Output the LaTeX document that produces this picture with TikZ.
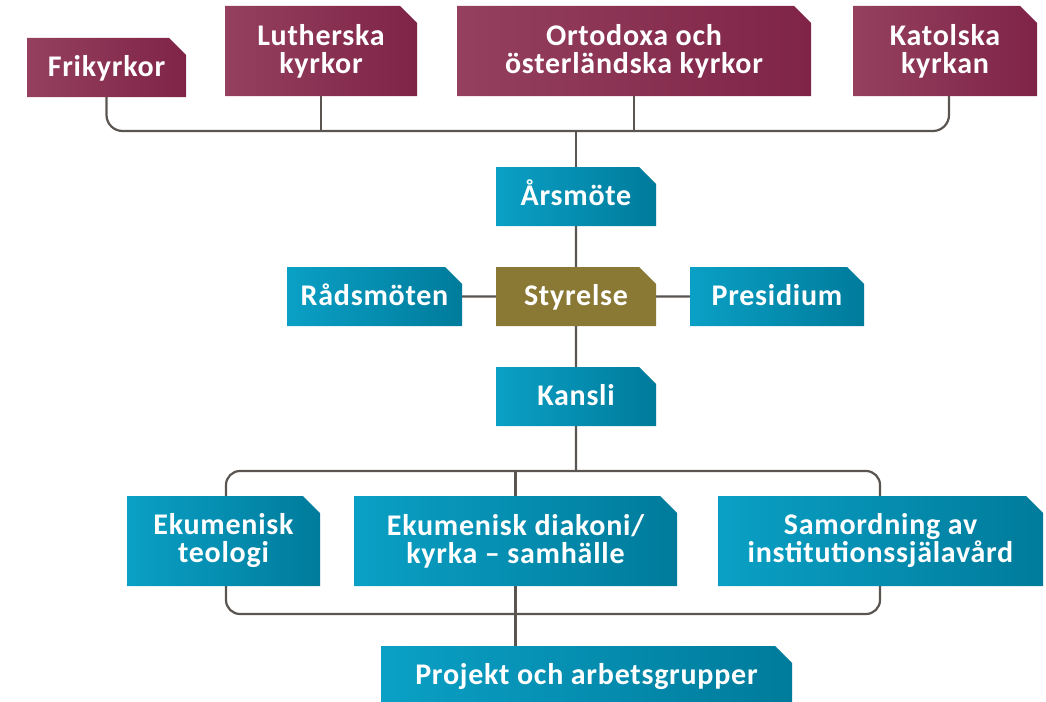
\documentclass[tikz,border=0pt]{standalone}
\usepackage{fontspec}
\setmainfont{Carlito}[LetterSpace=2.5]
\usetikzlibrary{positioning,shapes.misc,backgrounds}

\definecolor{kyrkaLight}{HTML}{95405E}
\definecolor{kyrkaDark}{HTML}{7F2447}
\definecolor{organLight}{HTML}{0AA0C5}
\definecolor{organDark}{HTML}{007B9B}
\definecolor{styrOlive}{HTML}{8A7835}
\definecolor{lineGrey}{HTML}{5A5551}

\tikzset{
  box/.style={chamfered rectangle, chamfered rectangle corners=north east,
    chamfered rectangle xsep=8.5pt, chamfered rectangle ysep=8.5pt,
    inner sep=0pt, outer sep=0pt, text=white, align=center,
    font=\fontsize{30}{28}\selectfont\bfseries, minimum height=59pt},
  enrad/.style={text height=22pt, text depth=5pt},
  kyrka/.style={box, left color=kyrkaLight, right color=kyrkaDark, minimum height=90pt},
  organ/.style={box, left color=organLight, right color=organDark},
  styr/.style={box, fill=styrOlive},
  conn/.style={draw=lineGrey, line width=2.2pt},
}

\begin{document}
\begin{tikzpicture}[x=1pt, y=-1pt, node distance=41pt]
  \useasboundingbox (0,0) rectangle (1046,701);
  % medlemskyrkor
  \node (frikyrkor) at (106.5,67.5) [kyrka, enrad, minimum width=159pt, minimum height=59pt] {Frikyrkor};
  \node (lutherska) at (321,51) [kyrka, minimum width=192pt] {Lutherska\\kyrkor};
  \node (ortodoxa) at (634,51) [kyrka, minimum width=354pt] {Ortodoxa och\\österländska kyrkor};
  \node (katolska) at (945,51) [kyrka, minimum width=184pt] {Katolska\\kyrkan};
  % ledning
  \node (arsmote) at (576,196.5) [organ, enrad, minimum width=160pt] {Årsmöte};
  \node (styrelse) [styr, enrad, minimum width=160pt, below=of arsmote] {Styrelse};
  \node (radsmoten) [organ, enrad, minimum width=175pt, left=34pt of styrelse] {Rådsmöten};
  \node (presidium) [organ, enrad, minimum width=174pt, right=34pt of styrelse] {Presidium};
  \node (kansli) [organ, enrad, minimum width=160pt, below=of styrelse] {Kansli};
  % verksamhet
  \node (teologi) at (223.5,541) [organ, minimum width=193pt, minimum height=90pt] {Ekumenisk\\teologi};
  \node (diakoni) at (515.5,541) [organ, minimum width=323pt, minimum height=90pt] {Ekumenisk diakoni/\\kyrka – samhälle};
  \node (samordning) at (880.5,541) [organ, minimum width=325pt, minimum height=90pt] {Samordning av\\institutionssjälavård};
  \node (projekt) at (586.5,675.5) [organ, enrad, minimum width=411pt] {Projekt och arbetsgrupper};

  \begin{scope}[on background layer]
    \coordinate (topbar) at (576,131);
    \draw[conn, rounded corners=16pt] (frikyrkor.south) |- (topbar) -| ([xshift=4pt]katolska.south);
    \draw[conn] (lutherska.south) -- (lutherska.south |- topbar);
    \draw[conn] (ortodoxa.south) -- (ortodoxa.south |- topbar);
    \draw[conn] (topbar) -- (arsmote.north);
    \draw[conn] (arsmote) -- (styrelse);
    \draw[conn] (styrelse) -- (kansli);
    \draw[conn] (radsmoten) -- (presidium);
    % ram kring verksamheten
    \coordinate (ramnw) at (226,471);
    \coordinate (ramse) at (880,614);
    \draw[conn, rounded corners=14pt] (ramnw) rectangle (ramse);
    \draw[conn] (kansli) -- (kansli |- ramnw);
    \draw[conn] (diakoni |- ramnw) -- (diakoni |- projekt.north);
  \end{scope}
\end{tikzpicture}
\end{document}
